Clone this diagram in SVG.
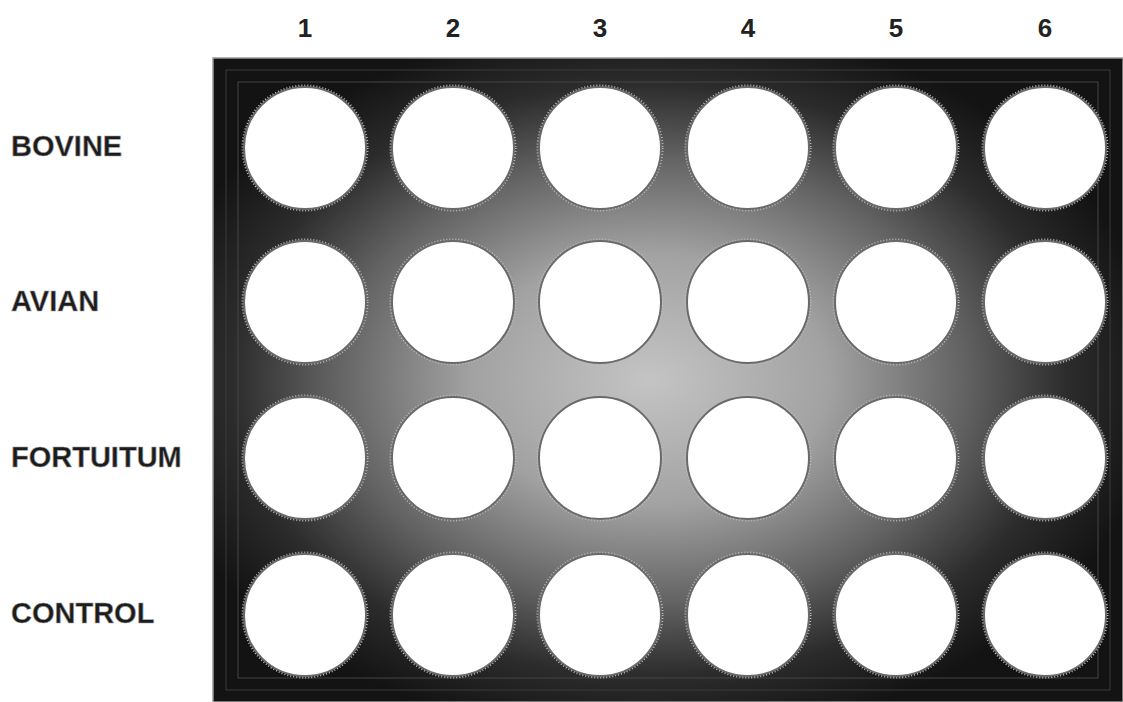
<svg xmlns="http://www.w3.org/2000/svg" width="1123" height="702" viewBox="0 0 1123 702">
<defs>
<radialGradient id="plateGrad" cx="0.48" cy="0.5" r="0.56" gradientUnits="objectBoundingBox">
<stop offset="0" stop-color="#c4c4c4"/>
<stop offset="0.35" stop-color="#a2a2a2"/>
<stop offset="0.62" stop-color="#626262"/>
<stop offset="0.82" stop-color="#2c2c2c"/>
<stop offset="1" stop-color="#131313"/>
</radialGradient>
</defs>
<style>
.lbl{font-family:"Liberation Sans",Arial,sans-serif;font-weight:bold;font-size:29px;fill:#1c1c1c;stroke:#9a9a9a;stroke-width:0.6px}
.num{font-family:"Liberation Sans",Arial,sans-serif;font-weight:bold;font-size:26px;fill:#222;text-anchor:middle}
.well{fill:#ffffff;stroke:#6a6a6a;stroke-width:2}
.ring{fill:none;stroke:#bdbdbd;stroke-width:3;stroke-dasharray:1 2}
</style>
<rect width="1123" height="702" fill="#ffffff"/>
<g id="plate">
<rect x="213" y="58" width="910" height="644" fill="url(#plateGrad)" stroke="#9a9a9a" stroke-width="1.5"/>
<rect x="226" y="70" width="884" height="620" fill="none" stroke="#3a3a3a" stroke-width="1"/>
<rect x="238" y="82" width="860" height="596" fill="none" stroke="#444" stroke-width="1"/>
</g>
<g id="column-labels">
<text class="num" x="305" y="37">1</text>
<text class="num" x="453" y="37">2</text>
<text class="num" x="600" y="37">3</text>
<text class="num" x="748" y="37">4</text>
<text class="num" x="896" y="37">5</text>
<text class="num" x="1045" y="37">6</text>
</g>
<g id="row-labels">
<text id="lbl-bovine" class="lbl" x="11" y="156">BOVINE</text>
<text id="lbl-avian" class="lbl" x="11" y="311">AVIAN</text>
<text id="lbl-fortuitum" class="lbl" x="11" y="467">FORTUITUM</text>
<text id="lbl-control" class="lbl" x="11" y="623">CONTROL</text>
</g>
<g id="wells">
<g id="row-bovine">
<g id="w-A1"><circle class="ring" cx="305" cy="148" r="62"/><circle class="well" cx="305" cy="148" r="61"/></g>
<g id="w-A2"><circle class="ring" cx="453" cy="148" r="62"/><circle class="well" cx="453" cy="148" r="61"/></g>
<g id="w-A3"><circle class="ring" cx="600" cy="148" r="62"/><circle class="well" cx="600" cy="148" r="61"/></g>
<g id="w-A4"><circle class="ring" cx="748" cy="148" r="62"/><circle class="well" cx="748" cy="148" r="61"/></g>
<g id="w-A5"><circle class="ring" cx="896" cy="148" r="62"/><circle class="well" cx="896" cy="148" r="61"/></g>
<g id="w-A6"><circle class="ring" cx="1045" cy="148" r="62"/><circle class="well" cx="1045" cy="148" r="61"/></g>
</g>
<g id="row-avian">
<g id="w-B1"><circle class="ring" cx="305" cy="302" r="62"/><circle class="well" cx="305" cy="302" r="61"/></g>
<g id="w-B2"><circle class="ring" cx="453" cy="302" r="62"/><circle class="well" cx="453" cy="302" r="61"/></g>
<g id="w-B3"><circle class="ring" cx="600" cy="302" r="62"/><circle class="well" cx="600" cy="302" r="61"/></g>
<g id="w-B4"><circle class="ring" cx="748" cy="302" r="62"/><circle class="well" cx="748" cy="302" r="61"/></g>
<g id="w-B5"><circle class="ring" cx="896" cy="302" r="62"/><circle class="well" cx="896" cy="302" r="61"/></g>
<g id="w-B6"><circle class="ring" cx="1045" cy="302" r="62"/><circle class="well" cx="1045" cy="302" r="61"/></g>
</g>
<g id="row-fortuitum">
<g id="w-C1"><circle class="ring" cx="305" cy="458" r="62"/><circle class="well" cx="305" cy="458" r="61"/></g>
<g id="w-C2"><circle class="ring" cx="453" cy="458" r="62"/><circle class="well" cx="453" cy="458" r="61"/></g>
<g id="w-C3"><circle class="ring" cx="600" cy="458" r="62"/><circle class="well" cx="600" cy="458" r="61"/></g>
<g id="w-C4"><circle class="ring" cx="748" cy="458" r="62"/><circle class="well" cx="748" cy="458" r="61"/></g>
<g id="w-C5"><circle class="ring" cx="896" cy="458" r="62"/><circle class="well" cx="896" cy="458" r="61"/></g>
<g id="w-C6"><circle class="ring" cx="1045" cy="458" r="62"/><circle class="well" cx="1045" cy="458" r="61"/></g>
</g>
<g id="row-control">
<g id="w-D1"><circle class="ring" cx="305" cy="615" r="62"/><circle class="well" cx="305" cy="615" r="61"/></g>
<g id="w-D2"><circle class="ring" cx="453" cy="615" r="62"/><circle class="well" cx="453" cy="615" r="61"/></g>
<g id="w-D3"><circle class="ring" cx="600" cy="615" r="62"/><circle class="well" cx="600" cy="615" r="61"/></g>
<g id="w-D4"><circle class="ring" cx="748" cy="615" r="62"/><circle class="well" cx="748" cy="615" r="61"/></g>
<g id="w-D5"><circle class="ring" cx="896" cy="615" r="62"/><circle class="well" cx="896" cy="615" r="61"/></g>
<g id="w-D6"><circle class="ring" cx="1045" cy="615" r="62"/><circle class="well" cx="1045" cy="615" r="61"/></g>
</g>
</g>
<g id="connectors"/>
</svg>
